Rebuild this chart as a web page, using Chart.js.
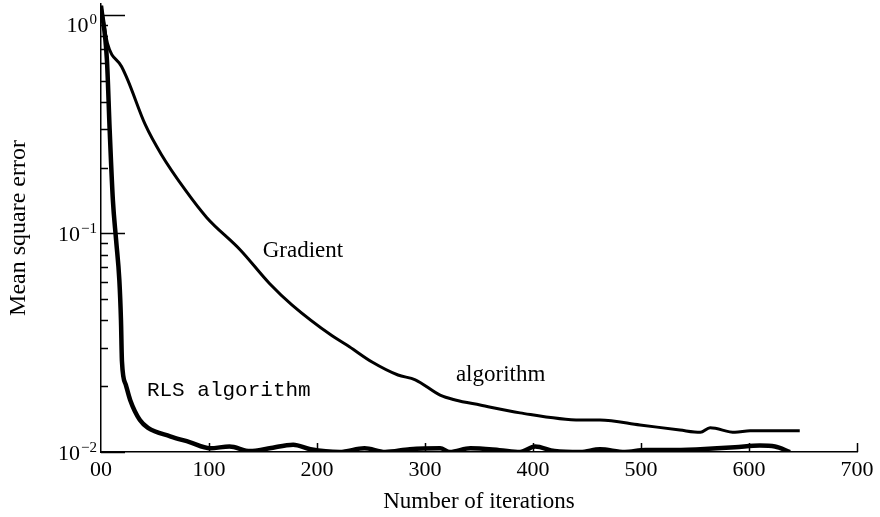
<!DOCTYPE html>
<html>
<head>
<meta charset="utf-8">
<script src="https://cdn.jsdelivr.net/npm/chart.js@4.4.1/dist/chart.umd.min.js"></script>
<style>
  html, body { margin: 0; padding: 0; background: #fff; }
  #wrap { width: 880px; height: 517px; }
</style>
</head>
<body>
<div id="wrap"><canvas id="c"></canvas></div>
<script>
// values (iterations, mean square error)
const gradIter = [0, 6, 19, 25, 41, 56, 78, 98, 129, 156, 177, 214, 230, 251, 275, 291, 314, 328, 351, 388, 444, 462, 499, 536, 555, 564, 587, 601, 647]
const gradMse  = [1.10, 0.74, 0.58, 0.50, 0.314, 0.229, 0.158, 0.118, 0.084, 0.059, 0.047, 0.034, 0.0303, 0.0258, 0.0225, 0.0214, 0.0182, 0.0173, 0.0164, 0.0151, 0.0140, 0.0140, 0.0133, 0.0126, 0.0123, 0.0129, 0.0123, 0.0125, 0.0125]

const rlsIter = [0, 5.5, 8, 11, 14, 17, 18.5, 19.4, 23, 27, 36, 43.5, 64, 82, 101, 119, 138, 156, 178, 194, 221, 244, 263, 286, 314, 323, 342, 369, 388, 402, 420, 444, 462, 485, 504, 527, 555, 587, 610, 624, 638]
const rlsMse  = [1.10, 0.62, 0.30, 0.142, 0.093, 0.061, 0.040, 0.026, 0.0203, 0.0173, 0.0140, 0.0129, 0.0118, 0.0111, 0.0104, 0.0106, 0.0101, 0.0104, 0.0108, 0.0103, 0.0100, 0.0104, 0.0100, 0.0103, 0.0104, 0.0100, 0.0104, 0.0102, 0.0100, 0.0106, 0.0101, 0.0100, 0.0103, 0.0100, 0.0102, 0.0102, 0.0103, 0.0105, 0.0107, 0.0106, 0.0100]

const yMajor = [1, 0.1, 0.01]
const yMajorExp = ["0", "\u22121", "\u22122"]

// text written inside the plot, anchored in data units
const NOTES = [
  { text: "Gradient", it: 187, mse: 0.083, font: "23px 'Liberation Serif'", align: "center" },
  { text: "algorithm", it: 370, mse: 0.0225, font: "23px 'Liberation Serif'", align: "center" },
  { text: "RLS algorithm", it: 42.5, mse: 0.0192, font: "21px 'Liberation Mono'", align: "left" },
]

const SERIF = "'Liberation Serif', 'Times New Roman', serif"

const toPoints = (xs, ys) => xs.map((x, i) => ({ x, y: ys[i] }))

// inward tick marks, the 10^n labels and the in-plot text
const inwardTicks = {
  id: "inwardTicks",
  afterDraw(chart) {
    const ctx = chart.ctx
    const xs = chart.scales.x
    const ys = chart.scales.y
    ctx.save()
    ctx.strokeStyle = "#000"
    ctx.lineWidth = 1.5
    ctx.beginPath()
    for (let e = -2; e <= 0; e++) {
      for (let m = 1; m <= 9; m++) {
        const v = m * Math.pow(10, e)
        if (v > ys.max || v < ys.min) continue
        const py = Math.round(ys.getPixelForValue(v)) + 0.5
        const len = m === 1 ? 24 : 7
        ctx.moveTo(xs.left, py)
        ctx.lineTo(xs.left + len, py)
      }
    }
    for (let t = 100; t <= 700; t += 100) {
      const px = Math.round(xs.getPixelForValue(t)) + 0.5
      ctx.moveTo(px, ys.bottom)
      ctx.lineTo(px, ys.bottom - 9)
    }
    ctx.stroke()

    ctx.fillStyle = "#000"
    ctx.textBaseline = "alphabetic"
    ctx.textAlign = "left"
    yMajor.forEach((v, i) => {
      const py = ys.getPixelForValue(v)
      ctx.font = "15px " + SERIF
      const ew = ctx.measureText(yMajorExp[i]).width
      ctx.font = "22px " + SERIF
      const bw = ctx.measureText("10").width
      const x0 = xs.left - 5 - ew - bw
      const base = Math.max(py + 8, ys.top + 28)
      ctx.fillText("10", x0, base)
      ctx.font = "15px " + SERIF
      ctx.fillText(yMajorExp[i], x0 + bw + 1, base - 8)
    })

    ctx.textBaseline = "middle"
    NOTES.forEach(n => {
      ctx.font = n.font
      ctx.textAlign = n.align
      ctx.fillText(n.text, xs.getPixelForValue(n.it), ys.getPixelForValue(n.mse))
    })
    ctx.restore()
  },
}

new Chart(document.getElementById("c"), {
  type: "line",
  data: {
    datasets: [
      {
        label: "Gradient algorithm",
        data: toPoints(gradIter, gradMse),
        borderColor: "#000",
        borderWidth: 3,
        pointRadius: 0,
        cubicInterpolationMode: "monotone",
        fill: false,
      },
      {
        label: "RLS algorithm",
        data: toPoints(rlsIter, rlsMse),
        borderColor: "#000",
        borderWidth: 4.5,
        pointRadius: 0,
        cubicInterpolationMode: "monotone",
        fill: false,
      },
    ],
  },
  options: {
    responsive: true,
    maintainAspectRatio: false,
    animation: false,
    layout: { padding: { top: 4, right: 23, left: 0, bottom: 0 } },
    plugins: {
      legend: { display: false },
      tooltip: { enabled: false },
    },
    scales: {
      x: {
        type: "linear",
        min: 0,
        max: 700,
        grid: { display: false, drawTicks: false, tickLength: 0 },
        border: { display: true, color: "#000", width: 1.5 },
        ticks: {
          stepSize: 100,
          padding: 5,
          color: "#000",
          font: { family: SERIF, size: 22 },
          maxRotation: 0,
          callback: v => (v === 0 ? "00" : String(v)),
        },
        title: {
          display: true,
          text: "Number of iterations",
          color: "#000",
          font: { family: SERIF, size: 23 },
          padding: { top: 0, bottom: 1 },
        },
        afterFit: s => {
          s.height = 65
          s.paddingLeft = 0
          s.paddingRight = 0
        },
      },
      y: {
        type: "logarithmic",
        min: 0.01,
        max: 1.12,
        grid: { display: false, drawTicks: false },
        border: { display: true, color: "#000", width: 1.5 },
        ticks: { display: false },
        title: {
          display: true,
          text: "Mean square error",
          color: "#000",
          font: { family: SERIF, size: 24 },
          padding: { top: 4, bottom: 0 },
        },
        afterFit: s => {
          s.width = 101
          s.paddingTop = 0
          s.paddingBottom = 0
        },
      },
    },
  },
  plugins: [inwardTicks],
})
</script>
</body>
</html>
